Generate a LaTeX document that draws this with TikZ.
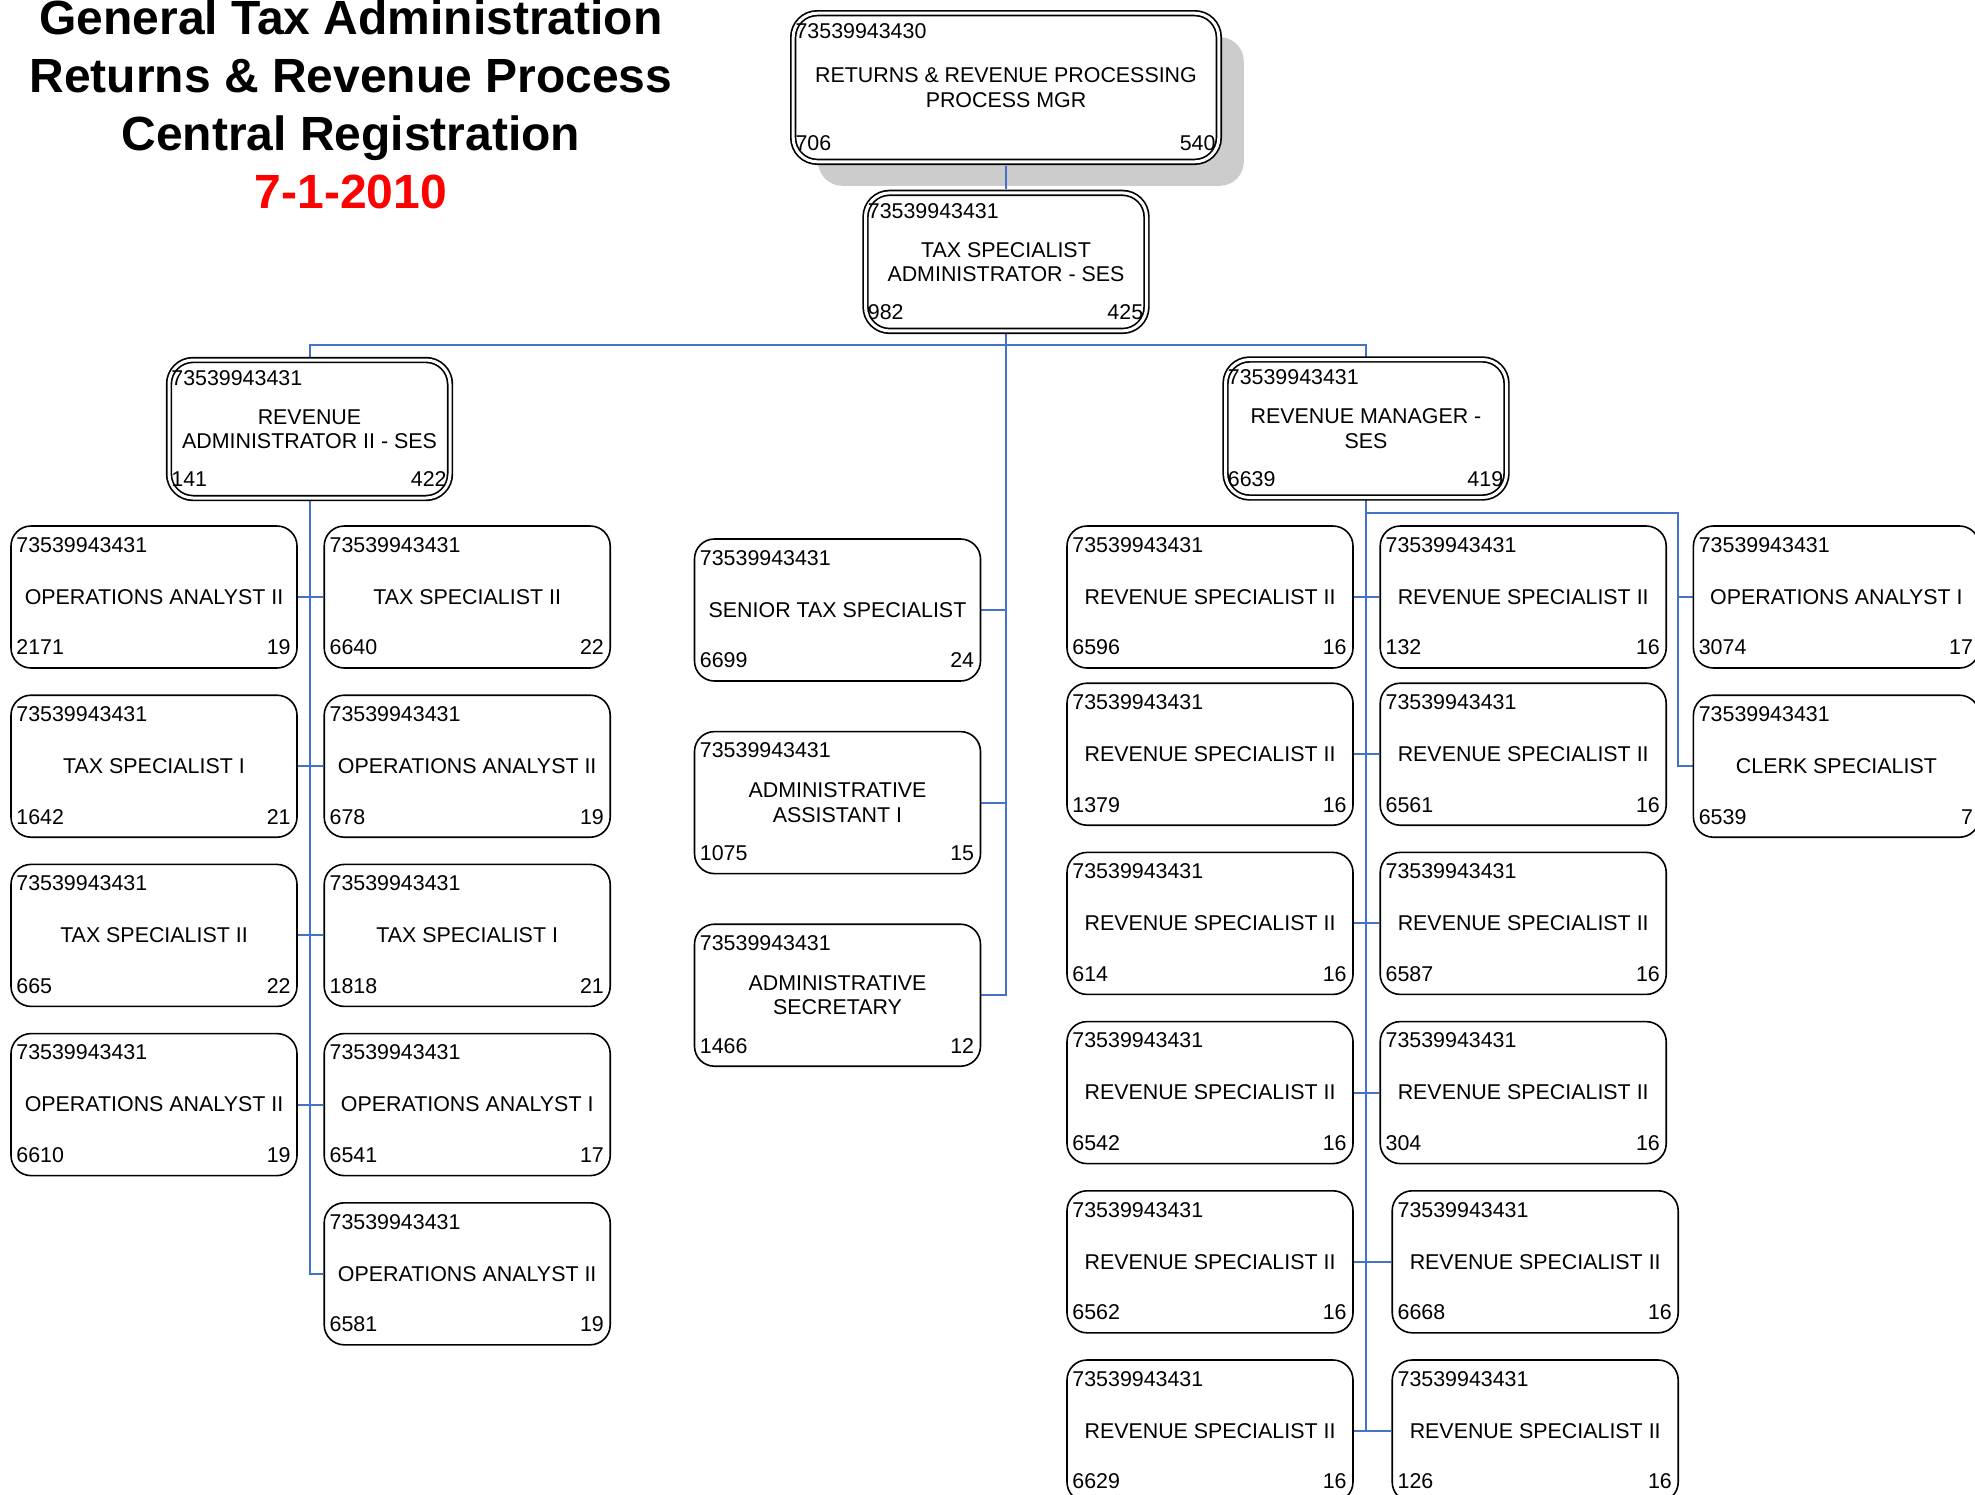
\documentclass[tikz,border=0pt]{standalone}
\usepackage{fontspec}
\setmainfont{Liberation Sans}
\usetikzlibrary{positioning,shadows,backgrounds}
\definecolor{linkblue}{HTML}{4472C4}
\newcommand{\boxfont}{\fontsize{21.4}{24.5}\selectfont}
\tikzset{
  post/.style={draw, fill=white, rounded corners=20pt, line width=1.6pt,
    minimum width=286pt, minimum height=142pt, inner sep=0pt,
    align=center, font=\boxfont},
  head/.style={post, double, double distance=3pt, line width=1.7pt,
    rounded corners=24pt, minimum width=281pt, minimum height=138pt},
  code/.style={inner sep=0pt, font=\boxfont},
  link/.style={draw=linkblue, line width=2pt},
  heading/.style={inner sep=0pt, align=center,
    font=\bfseries\fontsize{48}{57.7}\selectfont},
}
% manager box: options, name, title, code, left and right numbers
\newcommand{\orghead}[6][]{%
  \node[head,#1] (#2) {#3};
  \node[code,anchor=north west] at ([shift={(3pt,-11pt)}]#2.north west) {#4};
  \node[code,anchor=base west] at ([shift={(3pt,12pt)}]#2.south west) {#5};
  \node[code,anchor=base east] at ([shift={(-4pt,12pt)}]#2.south east) {#6};
}
% staff box: options, name, title, left and right numbers
\newcommand{\orgbox}[5][]{%
  \node[post,#1] (#2) {#3};
  \node[code,anchor=north west] at ([shift={(6pt,-12pt)}]#2.north west) {73539943431};
  \node[code,anchor=base west] at ([shift={(6pt,14pt)}]#2.south west) {#4};
  \node[code,anchor=base east] at ([shift={(-7pt,14pt)}]#2.south east) {#5};
}

\begin{document}
\begin{tikzpicture}[x=1pt, y=-1pt, node distance=25.6pt]
  \useasboundingbox (0,0) rectangle (1975,1494);

  \node[heading, anchor=north] (title) at (351,0)
    {General Tax Administration\\Returns \& Revenue Process\\
     Central Registration\\\textcolor{red}{7-1-2010}};

  % managers
  \orghead[at={(1006,87.5)}, minimum width=425.6pt, minimum height=148.6pt,
    drop shadow={shadow xshift=25pt, shadow yshift=-24pt, fill=black!20, opacity=1}]
    {top}{RETURNS \& REVENUE PROCESSING\\PROCESS MGR}{73539943430}{706}{540}
  \orghead[below=29.4pt of top]{ses}{TAX SPECIALIST\\ADMINISTRATOR - SES}
    {73539943431}{982}{425}
  \orghead[at={(309.5,429)}]{adm}{REVENUE\\ADMINISTRATOR II - SES}
    {73539943431}{141}{422}
  \orghead[at={(1366,428.5)}]{mgr}{REVENUE MANAGER -\\SES}
    {73539943431}{6639}{419}

  % revenue administrator staff
  \orgbox[at={(154,597)}]{A1}{OPERATIONS ANALYST II}{2171}{19}
  \orgbox[below=of A1]{A2}{TAX SPECIALIST I}{1642}{21}
  \orgbox[below=of A2]{A3}{TAX SPECIALIST II}{665}{22}
  \orgbox[below=of A3]{A4}{OPERATIONS ANALYST II}{6610}{19}
  \orgbox[right=of A1]{B1}{TAX SPECIALIST II}{6640}{22}
  \orgbox[right=of A2]{B2}{OPERATIONS ANALYST II}{678}{19}
  \orgbox[right=of A3]{B3}{TAX SPECIALIST I}{1818}{21}
  \orgbox[right=of A4]{B4}{OPERATIONS ANALYST I}{6541}{17}
  \orgbox[below=of B4]{B5}{OPERATIONS ANALYST II}{6581}{19}

  % staff of the administrator
  \orgbox[at={(837.5,610)}]{C1}{SENIOR TAX SPECIALIST}{6699}{24}
  \orgbox[below=49pt of C1]{C2}{ADMINISTRATIVE\\ASSISTANT I}{1075}{15}
  \orgbox[below=49pt of C2]{C3}{ADMINISTRATIVE\\SECRETARY}{1466}{12}

  % revenue manager staff
  \orgbox[at={(1210,597)}]{R1}{REVENUE SPECIALIST II}{6596}{16}
  \orgbox[below=13.6pt of R1]{R2}{REVENUE SPECIALIST II}{1379}{16}
  \orgbox[below=of R2]{R3}{REVENUE SPECIALIST II}{614}{16}
  \orgbox[below=of R3]{R4}{REVENUE SPECIALIST II}{6542}{16}
  \orgbox[below=of R4]{R5}{REVENUE SPECIALIST II}{6562}{16}
  \orgbox[below=of R5]{R6}{REVENUE SPECIALIST II}{6629}{16}
  \orgbox[right=of R1]{S1}{REVENUE SPECIALIST II}{132}{16}
  \orgbox[right=of R2]{S2}{REVENUE SPECIALIST II}{6561}{16}
  \orgbox[right=of R3]{S3}{REVENUE SPECIALIST II}{6587}{16}
  \orgbox[right=of R4]{S4}{REVENUE SPECIALIST II}{304}{16}
  \orgbox[right=37.6pt of R5]{S5}{REVENUE SPECIALIST II}{6668}{16}
  \orgbox[right=37.6pt of R6]{S6}{REVENUE SPECIALIST II}{126}{16}
  \orgbox[right=of S1]{O1}{OPERATIONS ANALYST I}{3074}{17}
  \orgbox[below=of O1]{O2}{CLERK SPECIALIST}{6539}{7}

  % connectors
  \begin{scope}[on background layer]
    \coordinate (bus) at (1006,345);
    \coordinate (opsbus) at (1678,513);
    \draw[link] (bus) -| (adm.north);
    \draw[link] (bus) -| (mgr.north);
    \foreach \c in {C1,C2,C3}
      \draw[link] (ses.south) |- (\c.east);
    \foreach \c in {A1,A2,A3,A4}
      \draw[link] (adm.south) |- (\c.east);
    \foreach \c in {B1,B2,B3,B4,B5}
      \draw[link] (adm.south) |- (\c.west);
    \foreach \c in {R1,R2,R3,R4,R5,R6}
      \draw[link] (mgr.south) |- (\c.east);
    \foreach \c in {S1,S2,S3,S4,S5,S6}
      \draw[link] (mgr.south) |- (\c.west);
    \draw[link] (mgr.south) |- (opsbus) |- (O2.west);
    \draw[link] (opsbus) |- (O1.west);
  \end{scope}
  \draw[link, shorten <=3pt, shorten >=3pt] (top.south) -- (ses.north);
\end{tikzpicture}
\end{document}
